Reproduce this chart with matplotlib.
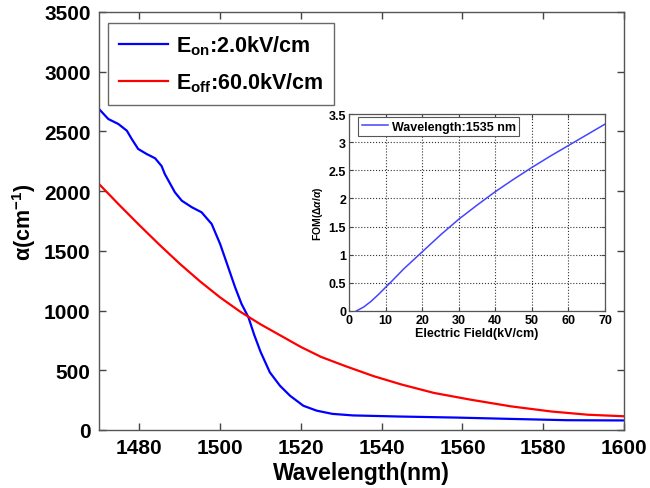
import matplotlib
matplotlib.use("Agg")
import matplotlib.pyplot as plt

plt.rcParams['font.family'] = ['Liberation Sans', 'DejaVu Sans']
plt.rcParams['font.weight'] = 'bold'
plt.rcParams['mathtext.fontset'] = 'custom'
plt.rcParams['mathtext.rm'] = 'Liberation Sans:bold'
plt.rcParams['mathtext.it'] = 'Liberation Sans:italic:bold'
plt.rcParams['mathtext.bf'] = 'Liberation Sans:bold'

# Absorption spectrum, E_on = 2.0 kV/cm
wl_on = [1470, 1472.3, 1474.8, 1476.9, 1478.1, 1479.7, 1481.8, 1483.9, 1485.5,
         1486.3, 1488.8, 1490.5, 1493.0, 1495.4, 1497.9, 1500.0, 1502.0, 1503.7,
         1505.3, 1507.0, 1508.4, 1510.0, 1512.3, 1514.8, 1517.3, 1520.6, 1523.9,
         1527.8, 1532.9, 1544.2, 1558.5, 1571.8, 1586.0, 1600]
alpha_on = [2688, 2604, 2562, 2506, 2437, 2353, 2311, 2275, 2210,
            2143, 1990, 1920, 1865, 1823, 1725, 1557, 1362, 1195,
            1055, 944, 800, 655, 483, 371, 287, 203, 162,
            135, 122, 113, 104, 93, 82, 80]

# Absorption spectrum, E_off = 60.0 kV/cm
wl_off = [1470, 1475, 1480, 1485, 1490, 1495, 1500, 1505, 1510, 1515,
          1520, 1525, 1531, 1538, 1545, 1553, 1562, 1572, 1582, 1591, 1600]
alpha_off = [2060, 1885, 1715, 1550, 1392, 1245, 1110, 990, 885, 790,
             695, 612, 535, 451, 380, 310, 254, 198, 155, 128, 115]

# Figure of merit vs. electric field at 1535 nm
field = [2, 4, 6, 8, 10, 12, 15, 20, 25, 30, 35, 40, 45, 50, 55, 60, 65, 70]
fom = [0.0, 0.07, 0.17, 0.29, 0.42, 0.55, 0.75, 1.05, 1.35, 1.63, 1.88,
       2.12, 2.34, 2.55, 2.75, 2.94, 3.13, 3.32]

main_xticks = [1480, 1500, 1520, 1540, 1560, 1580, 1600]
main_yticks = [0, 500, 1000, 1500, 2000, 2500, 3000, 3500]
inset_xticks = [0, 10, 20, 30, 40, 50, 60, 70]
inset_yticks = [0, 0.5, 1, 1.5, 2, 2.5, 3, 3.5]
inset_ylabels = ['0', '0.5', '1', '1.5', '2', '2.5', '3', '3.5']

fig = plt.figure(figsize=(6.5, 4.89), dpi=100)
ax = fig.add_axes([99 / 650, 58 / 489, 525 / 650, 418 / 489])

ax.plot(wl_on, alpha_on, color='#0000ff', lw=1.6, label='E$_{\\mathrm{on}}$:2.0kV/cm')
ax.plot(wl_off, alpha_off, color='#ff0000', lw=1.6, label='E$_{\\mathrm{off}}$:60.0kV/cm')
ax.set_xlim(1470, 1600)
ax.set_ylim(0, 3500)
ax.set_xticks(main_xticks)
ax.set_yticks(main_yticks)
ax.tick_params(direction='in', length=5, width=1, top=True, right=True,
               labelsize=15, color='#444444', pad=6)
for lab in ax.get_xticklabels() + ax.get_yticklabels():
    lab.set_fontweight('bold')
for s in ax.spines.values():
    s.set_color('#555555')
    s.set_linewidth(1.0)
ax.set_xlabel('Wavelength(nm)', fontsize=16.5, fontweight='bold', labelpad=3)
ax.set_ylabel('α(cm$^{-1}$)', fontsize=15.5, fontweight='bold', labelpad=4)

leg = ax.legend(loc='upper left', bbox_to_anchor=(0.017, 0.974), borderaxespad=0,
                fontsize=15.5, frameon=True, fancybox=False, handlelength=2.3,
                handletextpad=0.35, borderpad=0.5, labelspacing=0.6)
leg.get_frame().set_edgecolor('#444444')
leg.get_frame().set_linewidth(1.0)
for t in leg.get_texts():
    t.set_fontweight('bold')

# Inset: figure of merit
ins = fig.add_axes([349 / 650, 177 / 489, 256 / 650, 197 / 489])
ins.plot(field, fom, color='#4444ff', lw=1.1, label='Wavelength:1535 nm')
ins.set_xlim(0, 70)
ins.set_ylim(0, 3.5)
ins.set_xticks(inset_xticks)
ins.set_yticks(inset_yticks)
ins.set_yticklabels(inset_ylabels)
ins.grid(True, linestyle=':', color='#333333', linewidth=0.8)
ins.tick_params(direction='in', length=3, width=0.8, top=True, right=True,
                labelsize=9, color='#444444', pad=2)
for lab in ins.get_xticklabels() + ins.get_yticklabels():
    lab.set_fontweight('bold')
for s in ins.spines.values():
    s.set_color('#555555')
    s.set_linewidth(0.9)
ins.set_xlabel('Electric Field(kV/cm)', fontsize=9, fontweight='bold', labelpad=1)
ins.set_ylabel('FOM($\\Delta\\alpha/\\alpha$)', fontsize=7.5, fontweight='bold', labelpad=3)
ileg = ins.legend(loc='upper left', bbox_to_anchor=(0.035, 0.985), borderaxespad=0,
                  fontsize=9, frameon=True, fancybox=False, handlelength=2.1,
                  handletextpad=0.3, borderpad=0.3)
ileg.get_frame().set_edgecolor('#555555')
ileg.get_frame().set_linewidth(0.8)
ileg.get_frame().set_alpha(1)
for t in ileg.get_texts():
    t.set_fontweight('bold')

fig.savefig('out.png', dpi=100)
